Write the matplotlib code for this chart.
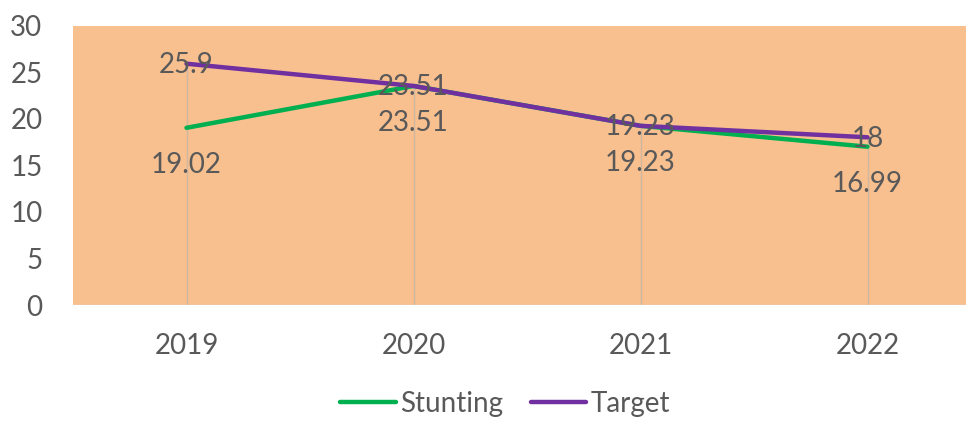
import matplotlib
matplotlib.use("Agg")
import matplotlib.pyplot as plt
from matplotlib.lines import Line2D

years = ["2019", "2020", "2021", "2022"]
stunting = [19.02, 23.51, 19.23, 16.99]
target = [25.9, 23.51, 19.23, 18]
yticks = [0, 5, 10, 15, 20, 25, 30]

plt.rcParams['font.family'] = ['Lato', 'DejaVu Sans']
txt = '#595959'
fs = 20

fig = plt.figure(figsize=(9.66, 4.21), dpi=100)
ax = fig.add_axes([73/966, 1-305/421, (981-73)/966, (305-25.5)/421])
ax.set_facecolor('#F8BF8F')
x = list(range(len(years)))

for xi, s, t in zip(x, stunting, target):
    ax.plot([xi, xi], [0, max(s, t)], color='#D0B8A0', lw=1.0, zorder=1)

ax.plot(x, stunting, color='#00B050', lw=3.2, solid_capstyle='round', zorder=3)
ax.plot(x, target, color='#7030A0', lw=3.2, solid_capstyle='round', zorder=4)

for xi, s in zip(x, stunting):
    ax.annotate(f"{s:g}", (xi, s), xytext=(0, -27), textcoords='offset points',
                ha='center', va='center', fontsize=fs, color=txt, zorder=5)
for xi, t in zip(x, target):
    ax.annotate(f"{t:g}", (xi, t), xytext=(0, -1), textcoords='offset points',
                ha='center', va='center', fontsize=fs, color=txt, zorder=5)

ax.set_xlim(-0.5, 3.5)
ax.set_ylim(0, 30)
ax.set_yticks(yticks)
ax.set_yticklabels([str(v) for v in yticks])
ax.set_xticks(x)
ax.set_xticklabels(years)
ax.tick_params(axis='both', length=0, labelsize=fs, labelcolor=txt)
ax.tick_params(axis='y', pad=22)
ax.tick_params(axis='x', pad=20)
for sp in ax.spines.values():
    sp.set_visible(False)
ax.axhline(0, color='#D9D9D9', lw=1.0, zorder=2)

handles = [Line2D([], [], color='#00B050', lw=3.2, solid_capstyle='round'),
           Line2D([], [], color='#7030A0', lw=3.2, solid_capstyle='round')]
leg = fig.legend(handles, ['Stunting', 'Target'], loc='center', bbox_to_anchor=(505/966, 1-404/421),
                 ncol=2, frameon=False, fontsize=fs, handlelength=2.0, handletextpad=0.15,
                 columnspacing=1.0, labelcolor=txt, borderpad=0.1)

fig.savefig('out.png', dpi=100)
